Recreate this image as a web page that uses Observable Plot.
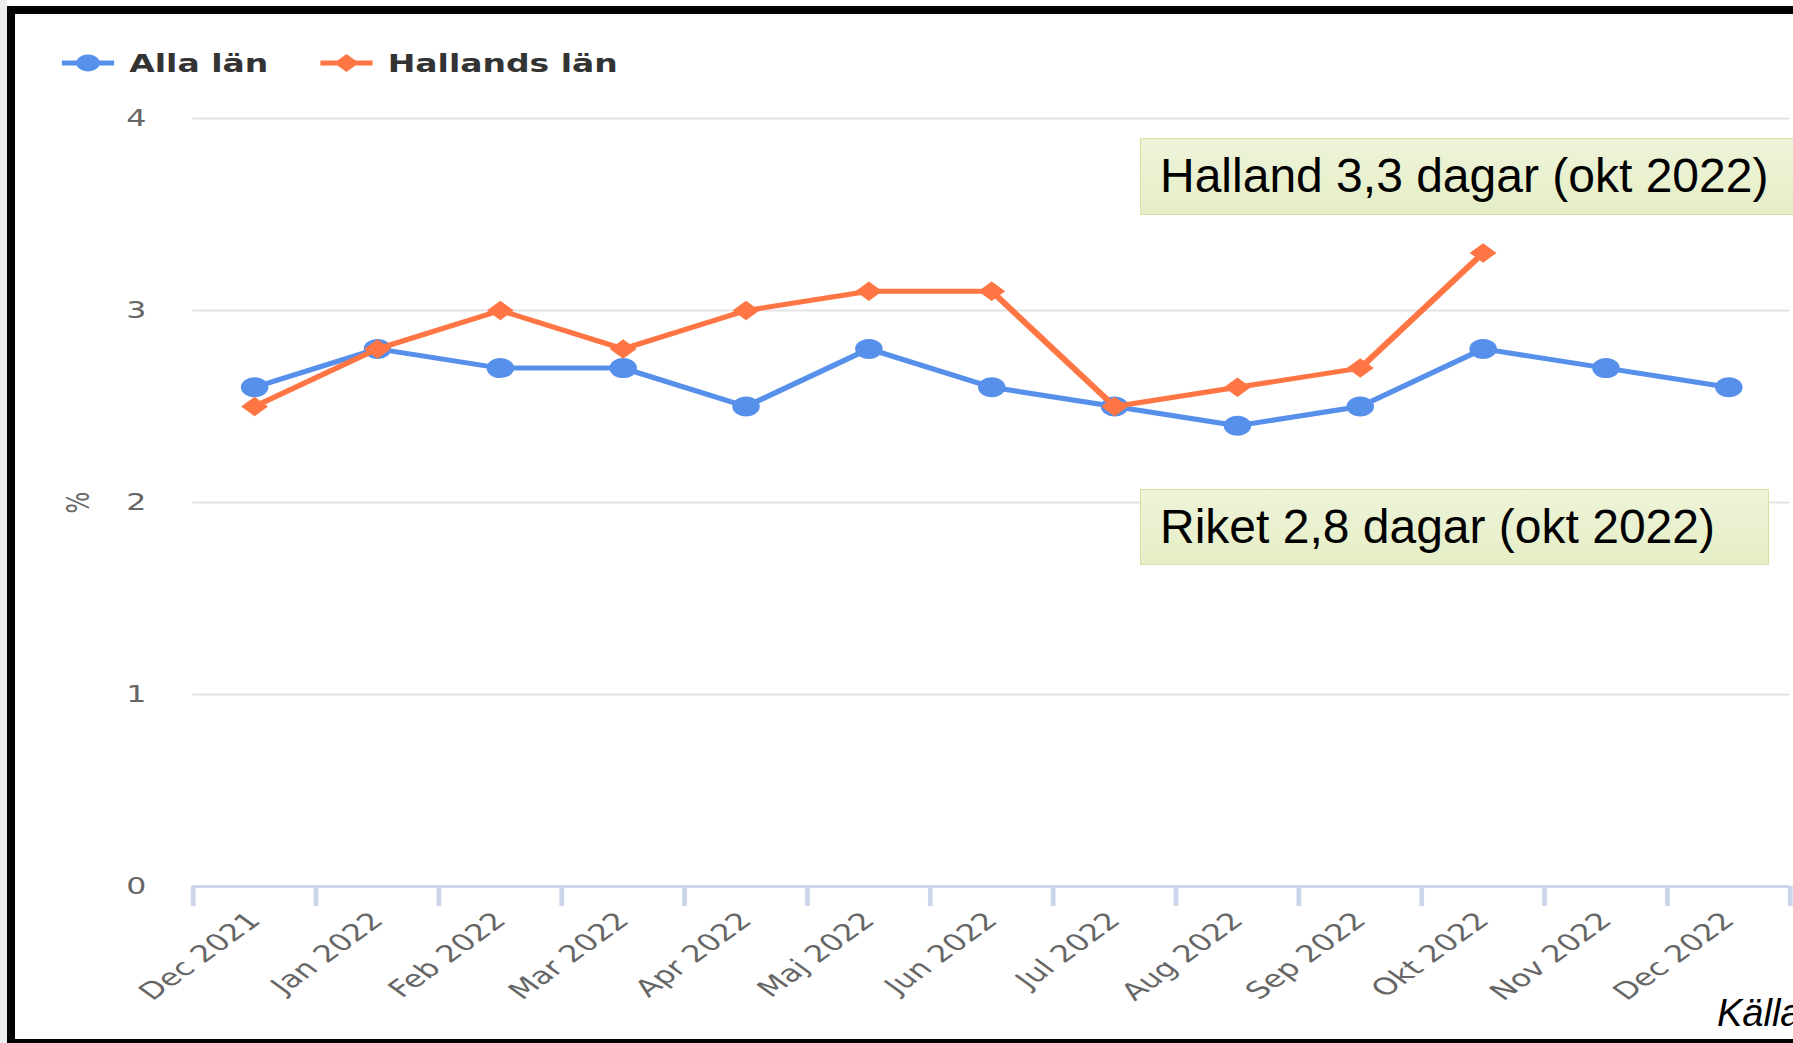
<!DOCTYPE html>
<html>
<head>
<meta charset="utf-8">
<script src="https://cdn.jsdelivr.net/npm/d3@7"></script>
<script src="https://cdn.jsdelivr.net/npm/@observablehq/plot@0.6"></script>
<style>
html, body { margin: 0; padding: 0; background: #fff; }
body { width: 1793px; height: 1043px; overflow: hidden; position: relative; font-family: "DejaVu Sans", sans-serif; }
#strip { position: absolute; left: 0; top: 0; width: 7px; height: 1043px; background: #ececec; }
#frame { position: absolute; left: 7px; top: 6px; width: 1830px; height: 1025px;
  border-left: 8px solid #000; border-top: 8px solid #000; border-bottom: 4px solid #000; }
#stretch { position: absolute; left: 0; top: 0; width: 1304px; height: 1043px;
  transform: scaleX(1.375); transform-origin: 0 0; }
#legend { position: absolute; left: 0; top: 33px; }
#chart { position: absolute; left: 0; top: 90px; }
.note { position: absolute; box-sizing: border-box; background: linear-gradient(#eef4d9, #e5eec6);
  border: 1.5px solid #d4e2a2; font-family: "Liberation Sans", Arial, sans-serif; font-size: 48px;
  color: #000; padding-left: 19px; white-space: nowrap; }
#note1 { left: 1140px; top: 138px; width: 720px; height: 77px; line-height: 74px; }
#note2 { left: 1140px; top: 489px; width: 629px; height: 76px; line-height: 73px; }
#source { position: absolute; left: 1717px; top: 994px; font-family: "Liberation Sans", Arial, sans-serif;
  font-style: italic; font-size: 38px; line-height: 38px; color: #000; white-space: nowrap; }
</style>
</head>
<body>
<div id="strip"></div>
<div id="frame"></div>
<div id="stretch">
  <svg id="legend" width="600" height="60"></svg>
  <div id="chart"></div>
</div>
<div id="note1" class="note"></div>
<div id="note2" class="note"></div>
<div id="source"></div>
<script>
// ---- data ----
const categories = ["Dec 2021", "Jan 2022", "Feb 2022", "Mar 2022", "Apr 2022", "Maj 2022", "Jun 2022",
  "Jul 2022", "Aug 2022", "Sep 2022", "Okt 2022", "Nov 2022", "Dec 2022"];
const allaLan = [2.6, 2.8, 2.7, 2.7, 2.5, 2.8, 2.6, 2.5, 2.4, 2.5, 2.8, 2.7, 2.6];
const hallandsLan = [2.5, 2.8, 3.0, 2.8, 3.0, 3.1, 3.1, 2.5, 2.6, 2.7, 3.3, null, null];
const yTicks = [0, 1, 2, 3, 4];
const yLabel = "%";
const seriesNames = ["Alla län", "Hallands län"];
const seriesColors = ["#5690eb", "#ff7543"];
const annotations = ["Halland 3,3 dagar (okt 2022)", "Riket 2,8 dagar (okt 2022)"];
const sourceText = "Källa";

// ---- derived tables ----
const idx = categories.map((_, i) => i);
const boundaries = [...idx.map(i => i - 0.5), categories.length - 0.5];
const alla = idx.map(i => ({i, v: allaLan[i]}));
const hall = idx.filter(i => hallandsLan[i] != null).map(i => ({i, v: hallandsLan[i]}));

// ---- chart ----
const chart = Plot.plot({
  width: 1304,
  height: 944,
  marginLeft: 140,
  marginRight: 2.5,
  marginTop: 28,
  marginBottom: 148,
  style: {fontFamily: "DejaVu Sans", background: "transparent", overflow: "visible"},
  x: {domain: [-0.5, categories.length - 0.5], axis: null},
  y: {domain: [0, 4], axis: null},
  marks: [
    Plot.gridY(yTicks.filter(t => t > 0), {stroke: "#e3e3e3", strokeOpacity: 1, strokeWidth: 2}),
    Plot.axisY(yTicks, {tickSize: 0, tickPadding: 34, fontSize: 23, fill: "#666", tickFormat: d => String(d),
      label: yLabel, labelAnchor: "center", labelOffset: 92, labelArrow: "none"}),
    Plot.ruleY([0], {stroke: "#ccd6eb", strokeWidth: 3}),
    Plot.axisX(boundaries, {tickSize: 20, tickFormat: () => "", stroke: "#ccd6eb", strokeWidth: 3.5,
      strokeOpacity: 1, label: null}),
    Plot.axisX(idx, {tickSize: 0, tickPadding: 30, tickRotate: -45, tickFormat: i => categories[i],
      fontSize: 23.5, fill: "#666", label: null}),
    Plot.line(alla, {x: "i", y: "v", stroke: seriesColors[0], strokeWidth: 5}),
    Plot.dot(alla, {x: "i", y: "v", r: 10, fill: seriesColors[0], symbol: "circle"}),
    Plot.line(hall, {x: "i", y: "v", stroke: seriesColors[1], strokeWidth: 5}),
    Plot.dot(hall, {x: "i", y: "v", r: 8.8, fill: seriesColors[1], symbol: "diamond2"})
  ]
});
document.getElementById("chart").appendChild(chart);

// ---- legend ----
const leg = d3.select("#legend");
const legendItems = [
  {name: seriesNames[0], color: seriesColors[0], x0: 45, symbol: d3.symbolCircle, size: Math.PI * 8.5 * 8.5},
  {name: seriesNames[1], color: seriesColors[1], x0: 233, symbol: d3.symbolDiamond2, size: 210}
];
for (const it of legendItems) {
  const g = leg.append("g").attr("transform", `translate(${it.x0},30)`);
  g.append("line").attr("x1", 0).attr("x2", 38).attr("stroke", it.color).attr("stroke-width", 5);
  g.append("path").attr("d", d3.symbol(it.symbol, it.size)()).attr("transform", "translate(19,0)").attr("fill", it.color);
  g.append("text").attr("x", 49).attr("y", 8.5).attr("fill", "#333").attr("font-size", 24)
    .attr("font-weight", "bold").attr("font-family", "DejaVu Sans").text(it.name);
}

// ---- notes ----
document.getElementById("note1").textContent = annotations[0];
document.getElementById("note2").textContent = annotations[1];
document.getElementById("source").textContent = sourceText;
</script>
</body>
</html>
